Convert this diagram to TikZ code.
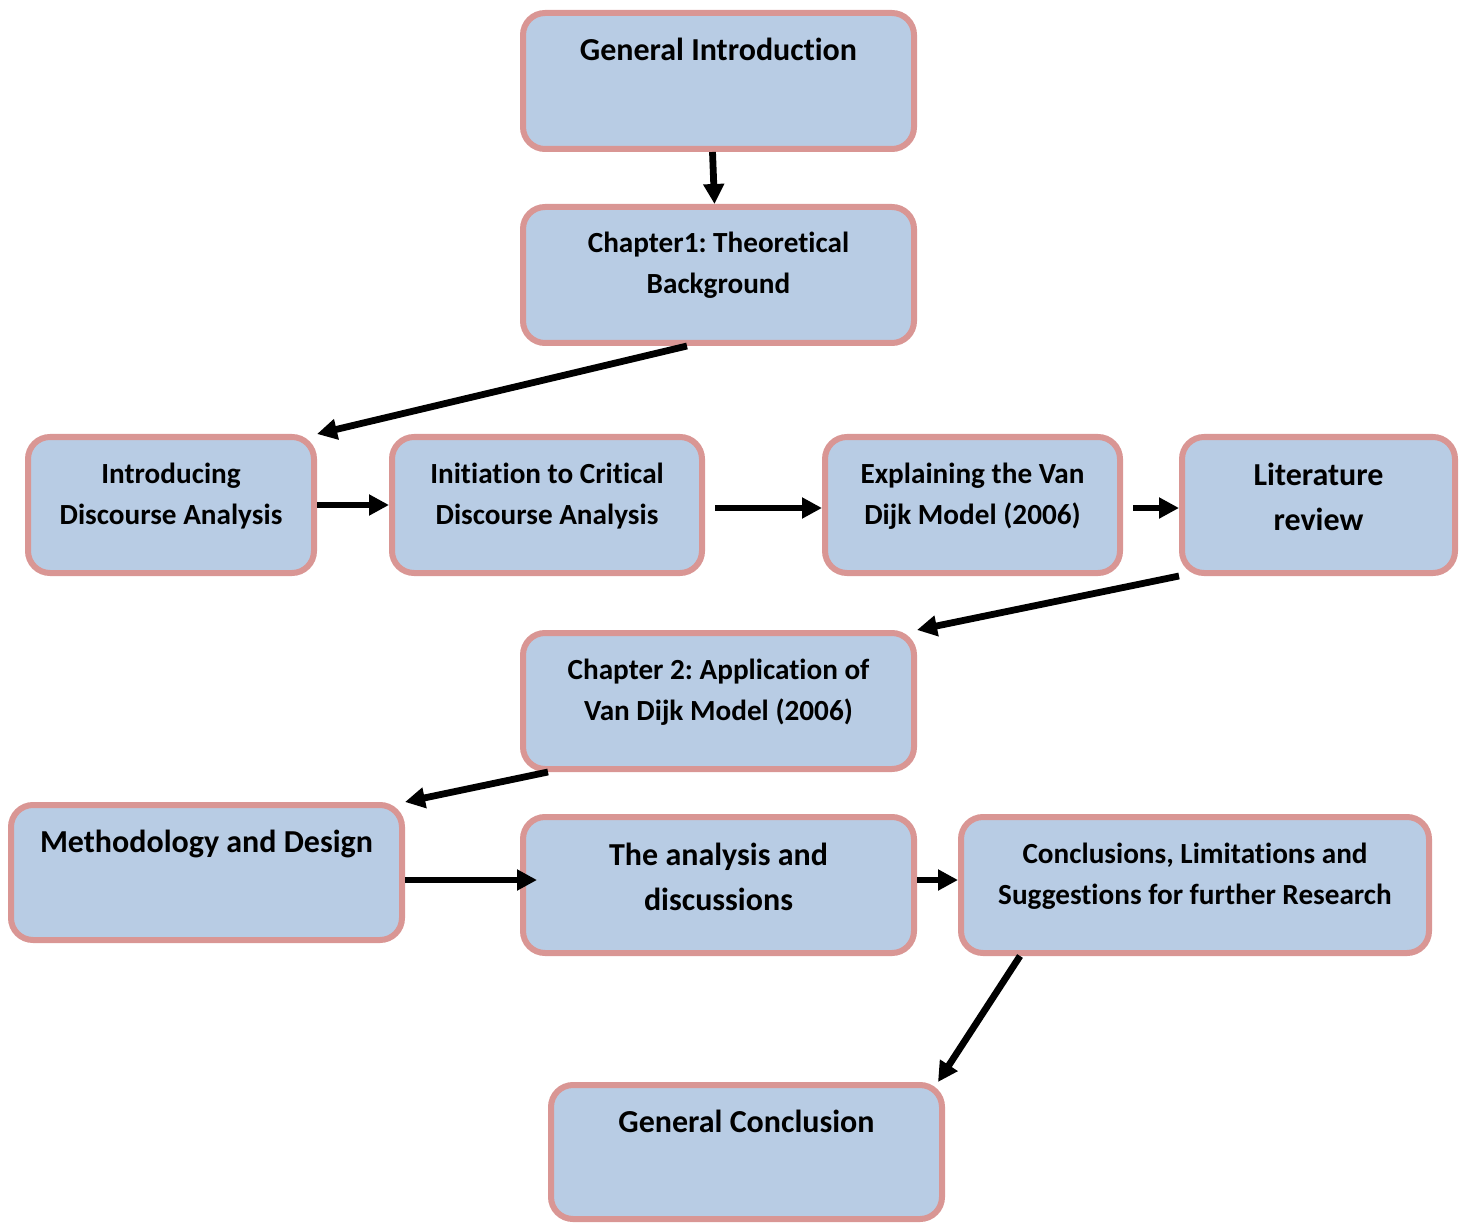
\documentclass[tikz,border=0pt]{standalone}
\usepackage{fontspec}
\setmainfont[Ligatures=NoCommon]{Carlito}
\frenchspacing
\usetikzlibrary{arrows.meta,positioning}
\definecolor{cBoxFill}{RGB}{184,204,228}
\definecolor{cBoxLine}{RGB}{217,150,148}
\tikzset{
  box/.style={draw=cBoxLine,fill=cBoxFill,line width=3pt,rounded corners=11pt,
              minimum width=195.5pt,minimum height=68pt,inner sep=0pt,align=center,
              text height=33pt,text depth=14pt,font=\fontsize{14.6}{20.5}\selectfont\bfseries},
  bigbox/.style={box,font=\fontsize{16}{22.5}\selectfont\bfseries,
                 text height=12pt,text depth=32pt},
  bigtwo/.style={bigbox,text height=37pt,text depth=12pt},
  flow/.style={-{Triangle[length=10pt,width=10pt]},line width=3.4pt},
}

\begin{document}
\begin{tikzpicture}[x=0.5pt,y=-0.5pt]
  \useasboundingbox (0,0) rectangle (1470,1224);
  % chapter spine
  \node[bigbox] (gi)  at (718.5,81)  {General Introduction};
  \node[box]    (ch1) at (718.5,275) {Chapter1: Theoretical\\Background};
  % theory row
  \node[box,minimum width=143pt]   (ida)  at (171,505)    {Introducing\\Discourse Analysis};
  \node[box,minimum width=155pt]   (icda) at (547,505)    {Initiation to Critical\\Discourse Analysis};
  \node[box,minimum width=147.5pt] (evd)  at (972.5,505)  {Explaining the Van\\Dijk Model (2006)};
  \node[bigtwo,minimum width=136.5pt] (lr) at (1318.5,505) {Literature\\review};
  % practical part
  \node[box]    (ch2)  at (718.5,701)  {Chapter 2: Application of\\Van Dijk Model (2006)};
  \node[bigbox,minimum height=67.5pt] (meth) at (206.5,872.5) {Methodology and Design};
  \node[bigtwo] (ana)  at (718.5,885)  {The analysis and\\discussions};
  \node[box,minimum width=234pt] (conc) at (1195,885) {Conclusions, Limitations and\\Suggestions for further Research};
  \node[bigbox,minimum height=67pt] (gc) at (746.5,1152) {General Conclusion};

  \draw[flow] ([xshift=-3pt]gi.south) -- ([xshift=-2pt]ch1.north);
  \draw[flow] ([xshift=-15.75pt]ch1.south) -- (ida.north east);
  \draw[flow] (ida.east) -- (icda.west);
  \draw[flow,shorten <=5pt] ([yshift=-1.5pt]icda.east) -- ([yshift=-1.5pt]evd.west);
  \draw[flow,shorten <=5pt] ([yshift=-1.5pt]evd.east) -- ([yshift=-1.5pt]lr.west);
  \draw[flow] (lr.south west) -- (ch2.north east);
  \draw[flow] ([xshift=14pt]ch2.south west) -- (meth.north east);
  \draw[flow,shorten >=-8.5pt] ([yshift=-3.75pt]meth.east) -- ([yshift=2.5pt]ana.west);
  \draw[flow] ([yshift=2.5pt]ana.east) -- ([yshift=2.5pt]conc.west);
  \draw[flow] ([xshift=31pt]conc.south west) -- ([xshift=-3.5pt]gc.north east);
\end{tikzpicture}
\end{document}
